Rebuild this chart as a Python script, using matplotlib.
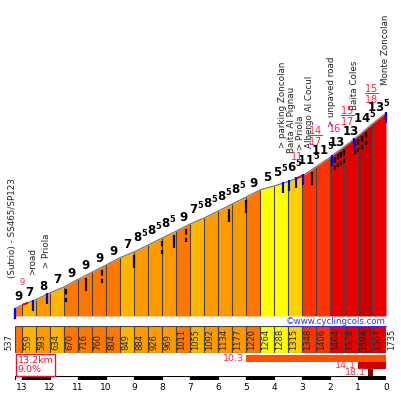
import matplotlib
matplotlib.use('Agg')
import matplotlib.pyplot as plt
import numpy as np
from matplotlib.lines import Line2D

# climb profile: km to the top and elevation (m)
dist = [13.25, 13.0, 12.5, 12.0, 11.5, 11.0, 10.5, 10.0, 9.5, 9.0, 8.5, 8.0, 7.5, 7.0,
        6.5, 6.0, 5.5, 5.0, 4.5, 4.0, 3.5, 3.0, 2.5, 2.0, 1.5, 1.0, 0.5, 0.0]
elev = [537, 559, 593, 634, 670, 716, 760, 804, 849, 884, 926, 969, 1011, 1055,
        1092, 1134, 1177, 1220, 1264, 1288, 1315, 1348, 1406, 1464, 1528, 1594, 1667, 1735]
grade = [9, 7, 8, 7, 9, 9, 9, 9, 7, 8.5, 8.5, 8.5, 9, 7.5, 8.5, 8.5, 8.5, 9,
         5, 5.5, 6.5, 11.5, 11.5, 13, 13, 14.5, 13.5]

# points of interest
poi_km = [13.25, 12.61, 12.11, 3.68, 3.46, 3.21, 2.96, 1.93, 1.14, 0.0]
poi_name = ['(Sutrio) - SS465/SP123', '>road', '> Priola', '> parking Zoncolan',
            'Baita Al Pignau', '> Priola', 'Albergo Al Cocul', '> unpaved road',
            'Baita Coles', 'Monte Zoncolan']

# hairpins
hp_km = [11.43, 10.71, 10.14, 9.0, 8.0, 7.57, 7.14, 5.61, 5.0, 2.64,
         1.82, 1.71, 1.61, 1.5, 1.11, 1.0, 0.86, 0.71]
hp_multi = [1, 0, 1, 0, 1, 0, 1, 0, 0, 0, 1, 1, 1, 1, 1, 1, 1, 1]

# steepest 100 m (red)
red_km = [13.0, 3.18, 2.54, 1.82, 1.39, 0.54]
red_txt = ['9', '11', '14/17', '16', '15/17', '15/18']
red_sections = [(12.96, 12.82), (3.18, 2.96)]

# steepest sections
steep_from = [5.0, 1.0, 0.64]
steep_to = [0.0, 0.0, 0.46]
steep_val = [10.3, 14.1, 18.1]

total_km = 13.2
avg_grade = 9.0
km_edges = [13.25, 13, 12, 11, 10, 9, 8, 7, 6, 5, 4, 3, 2, 1, 0]

W, H = 401, 393


def box(x0, y0, x1, y1):
    return [x0 / W, 1 - y1 / H, (x1 - x0) / W, (y1 - y0) / H]


def grade_color(g):
    if g < 6:
        return '#ffff00'
    if g < 7:
        return '#ffd000'
    if g < 8:
        return '#ffb400'
    if g < 9:
        return '#ff9900'
    if g < 10:
        return '#ff7700'
    if g < 12:
        return '#ff3300'
    if g < 14:
        return '#e60000'
    return '#c80000'


def elev_at(k):
    return np.interp(k, dist[::-1], elev[::-1])


def grade_label(g):
    if g == int(g):
        return str(int(g))
    return r'$\mathbf{%d^{5}}$' % int(g)


fig = plt.figure(figsize=(W / 100, H / 100), dpi=100)
px = 0.72  # pixels -> points

# ---- profile ----
ax = fig.add_axes(box(15, 0, 386, 316))
ybase, ytop = 492, 2427
ax.set_xlim(13.25, 0)
ax.set_ylim(ybase, ytop)
ax.axis('off')
mpp = (ytop - ybase) / 316.0  # metres per pixel

cols = [grade_color(g) for g in grade]
for i, g in enumerate(grade):
    ax.fill_between([dist[i], dist[i + 1]], [elev[i], elev[i + 1]], ybase,
                    color=cols[i], lw=0)
ax.vlines(dist, ybase, elev, color='#444444', lw=0.8)
ax.plot(dist, elev, color='#777777', lw=0.9)

for a, b in red_sections:
    ax.plot([a, b], [elev_at(a), elev_at(b)], color='red', lw=1.5)

for i, g in enumerate(grade):
    m = (dist[i] + dist[i + 1]) / 2
    ax.annotate(grade_label(g), (m, elev_at(m)), xytext=(0, 6.5 * px),
                textcoords='offset points', ha='center', va='baseline',
                fontsize=8.5, fontweight='bold', color='black')

# hairpins
for k, multi in zip(hp_km, hp_multi):
    e = elev_at(k)
    ls = (0, (2.5, 1.5)) if multi else '-'
    ax.plot([k, k], [e - 3 * mpp, e - 16 * mpp], color='black', lw=1.6,
            ls=ls, solid_capstyle='butt')

# poi markers and names
poi_dx = [-2, 0, 0, 0, 2, 4, 6, 0, 0, 0]
poi_dy = [31, 26, 26, 35, 28, 28, 27, 29, 29, 28]
for k, name, dx, dy in zip(poi_km, poi_name, poi_dx, poi_dy):
    e = elev_at(k)
    ax.plot([k, k], [e + 1 * mpp, e - 10 * mpp], color='#0000ff', lw=1.6,
            solid_capstyle='butt', clip_on=False)
    ax.annotate(name, (k, e), xytext=(dx * px, dy * px), textcoords='offset points',
                rotation=90, ha='center', va='bottom', fontsize=6.3, color='#222222')

red_dy = [23, 21, 31, 25, 28, 31]
for k, t, dy in zip(red_km, red_txt, red_dy):
    if '/' in t:
        n, d = t.split('/')
        s = r'$\dfrac{%s}{%s}$' % (n, d)
    else:
        s = t
    ax.annotate(s, (k, elev_at(k)), xytext=(0, dy * px), textcoords='offset points',
                ha='center', va='center', fontsize=6 if t == '9' else 7,
                color='#ff2040')

# ---- elevation table ----
at = fig.add_axes(box(15, 326, 386, 353))
at.set_xlim(13.25, 0)
at.set_ylim(0, 1)
at.axis('off')
mids = [(dist[i] + dist[i + 1]) / 2 for i in range(len(grade))]
wids = [dist[i] - dist[i + 1] for i in range(len(grade))]
at.bar(mids, 1, width=wids, color=cols, edgecolor='#444444', lw=0.8)
at.annotate(str(elev[0]), (dist[0], 0.1), xytext=(-2 * px, 0), textcoords='offset points',
            rotation=90, ha='right', va='bottom', fontsize=6, color='#222222',
            annotation_clip=False)
for k, e in zip(dist[1:], elev[1:]):
    at.annotate(str(e), (k, 0.1), xytext=(1.5 * px, 0), textcoords='offset points',
                rotation=90, ha='left', va='bottom', fontsize=6, color='#222222',
                annotation_clip=False)

fig.text(386 / W, 1 - 321.5 / H, '©www.cyclingcols.com', ha='right', va='center',
         fontsize=6.2, color='#3333ee')
fig.add_artist(Line2D([283 / W, 386 / W], [1 - 325.5 / H] * 2, color='#3333ee', lw=0.8))

# ---- steepest sections ----
sb = fig.add_axes(box(15, 355, 386, 376))
sb.set_xlim(13.25, 0)
sb.set_ylim(2.5, -0.5)
sb.axis('off')
rows = np.arange(len(steep_val))
sb.barh(rows, np.array(steep_from) - np.array(steep_to), left=steep_to, height=0.9,
        color=['#ff5000', '#cc0000', '#8b0000'])
for r, f, v in zip(rows, steep_from, steep_val):
    sb.annotate(f'{v:.1f}', (f, r), xytext=(-2 * px, 0), textcoords='offset points',
                ha='right', va='center', fontsize=6.8, color='#ff2a4a')

fig.text(17.5 / W, 1 - 365 / H, f'{total_km:.1f}km\n{avg_grade:.1f}%', ha='left',
         va='center', fontsize=6.8, color='#ee1133', linespacing=0.95,
         bbox=dict(boxstyle='square,pad=0.2', fc='white', ec='#ee1133', lw=1))

# ---- km scale ----
sc = fig.add_axes(box(15, 376, 386, 380))
sc.set_xlim(13.25, 0)
sc.set_ylim(0, 1)
sc.axis('off')
sm = [(km_edges[i] + km_edges[i + 1]) / 2 for i in range(len(km_edges) - 1)]
sw = [km_edges[i] - km_edges[i + 1] for i in range(len(km_edges) - 1)]
sc_cols = ['white' if i % 2 == 0 else 'black' for i in range(len(sm))]
sc.bar(sm, 1, width=sw, color=sc_cols, edgecolor='black', lw=0.8)
for k in km_edges[1:]:
    sc.annotate(str(k), (k, 0), xytext=(0, -2.5 * px), textcoords='offset points',
                ha='center', va='top', fontsize=6.5, color='black',
                annotation_clip=False)

fig.savefig('out.png', dpi=100)
